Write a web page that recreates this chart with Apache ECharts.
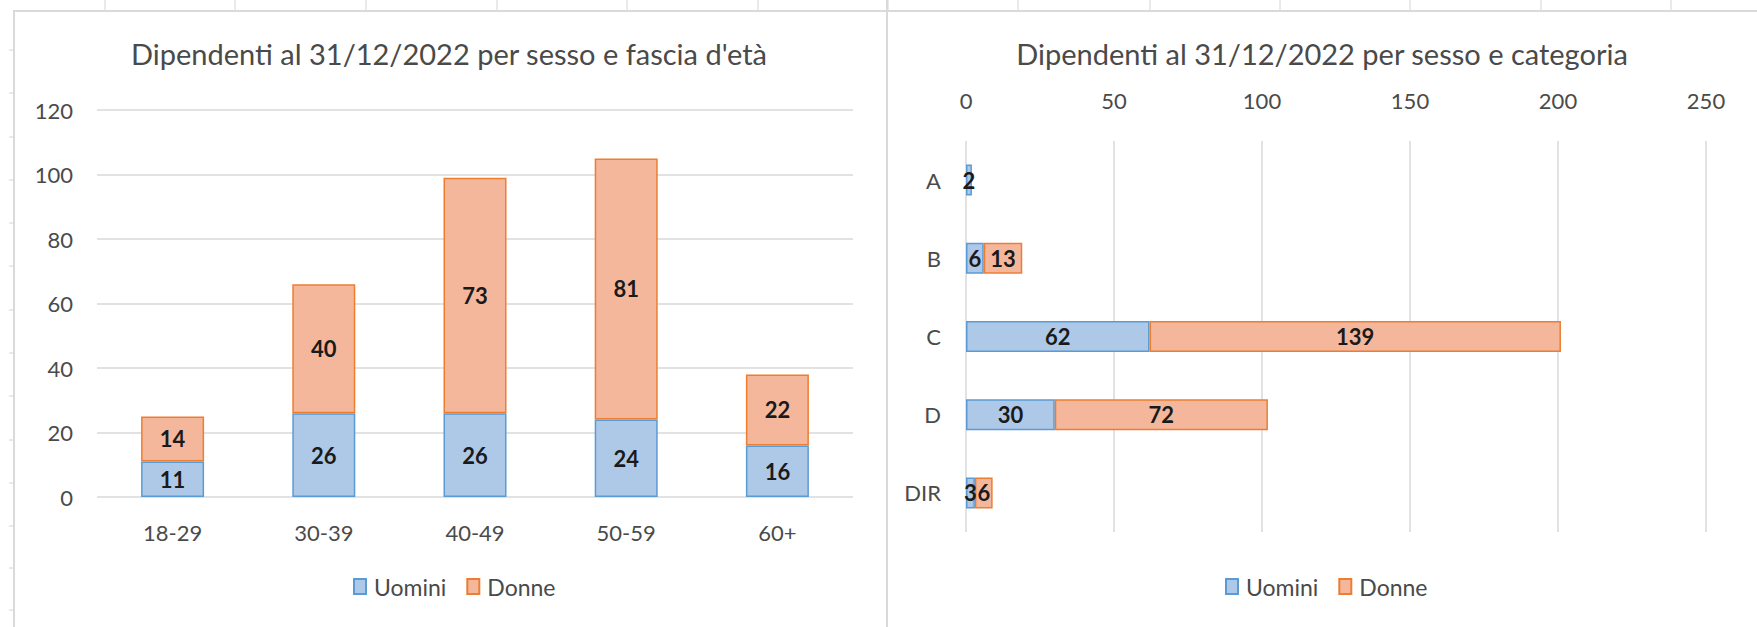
<!DOCTYPE html>
<html>
<head>
<meta charset="utf-8">
<script src="https://cdn.jsdelivr.net/npm/echarts@6/dist/echarts.min.js"></script>
<style>
html,body{margin:0;padding:0;background:#fff;}
#c{width:1757px;height:627px;}
</style>
</head>
<body>
<div id="c"></div>
<script>
// ---- Data ----
const ageCategories = ['18-29', '30-39', '40-49', '50-59', '60+'];
const ageUomini = [11, 26, 26, 24, 16];
const ageDonne = [14, 40, 73, 81, 22];
const ageTicks = { min: 0, max: 120, interval: 20 };

const catCategories = ['A', 'B', 'C', 'D', 'DIR'];
const catUomini = [2, 6, 62, 30, 3];
const catDonne = [null, 13, 139, 72, 6];
const catTicks = { min: 0, max: 250, interval: 50 };

const seriesNames = ['Uomini', 'Donne'];
const title1 = "Dipendenti al 31/12/2022 per sesso e fascia d'età";
const title2 = 'Dipendenti al 31/12/2022 per sesso e categoria';

// ---- Styles ----
const FONT = 'Lato';
const TXT = '#4a4a4a';
const GRID = '#D9D9D9';
const blue = { color: '#AEC9E8', borderColor: '#5B9BD5', borderWidth: 1.5 };
const orange = { color: '#F5B79C', borderColor: '#ED7D31', borderWidth: 1.5 };
const dataLabel = { show: true, position: 'inside', color: '#1a1a1a', fontFamily: FONT, fontWeight: 'bold', fontSize: 22 };

// decorative spreadsheet lines
const graphics = [];
const colX = [105, 235, 366, 497, 627, 758, 888, 1018, 1150, 1280, 1410, 1541, 1671];
colX.forEach(x => graphics.push({ type: 'line', shape: { x1: x, y1: 0, x2: x, y2: 10 }, style: { stroke: '#D4D4D4', lineWidth: 1 }, silent: true }));
const rowY = [50, 93, 137, 180, 223, 266, 310, 353, 396, 440, 483, 526, 568, 610];
rowY.forEach(y => graphics.push({ type: 'line', shape: { x1: 9, y1: y, x2: 13, y2: y }, style: { stroke: '#D4D4D4', lineWidth: 1 }, silent: true }));
graphics.push({ type: 'line', shape: { x1: 13, y1: 11, x2: 1757, y2: 11 }, style: { stroke: '#DADADA', lineWidth: 2 }, silent: true });
graphics.push({ type: 'line', shape: { x1: 14, y1: 11, x2: 14, y2: 627 }, style: { stroke: '#DADADA', lineWidth: 2 }, silent: true });
graphics.push({ type: 'line', shape: { x1: 887, y1: 0, x2: 887, y2: 627 }, style: { stroke: '#DADADA', lineWidth: 2 }, silent: true });

const legendText = { fontFamily: FONT, fontSize: 23, color: TXT, padding: [0, 0, 0, 3] };

const chart = echarts.init(document.getElementById('c'), null, { renderer: 'svg' });
chart.setOption({
  animation: false,
  backgroundColor: '#fff',
  textStyle: { fontFamily: FONT },
  graphic: graphics,
  title: [
    { text: title1, left: 449, top: 37, textAlign: 'center', padding: 0,
      textStyle: { fontFamily: FONT, fontSize: 29, fontWeight: 'normal', color: TXT, lineHeight: 32 } },
    { text: title2, left: 1322, top: 37, textAlign: 'center', padding: 0,
      textStyle: { fontFamily: FONT, fontSize: 29, fontWeight: 'normal', color: TXT, lineHeight: 32 } }
  ],
  legend: [
    { data: seriesNames, left: 353, top: 575, padding: 0, itemWidth: 12, itemHeight: 15, itemGap: 20, icon: 'rect',
      textStyle: legendText },
    { data: seriesNames, left: 1225, top: 575, padding: 0, itemWidth: 12, itemHeight: 15, itemGap: 20, icon: 'rect',
      textStyle: legendText }
  ],
  grid: [
    { left: 97, right: 1757 - 853, top: 110, bottom: 627 - 497, containLabel: false },
    { left: 966, right: 1757 - 1706, top: 141, bottom: 627 - 532, containLabel: false }
  ],
  xAxis: [
    { type: 'category', gridIndex: 0, data: ageCategories,
      axisLine: { show: false }, axisTick: { show: false },
      axisLabel: { fontFamily: FONT, fontSize: 22, color: TXT, margin: 24 } },
    { type: 'value', gridIndex: 1, position: 'top', min: catTicks.min, max: catTicks.max, interval: catTicks.interval,
      axisLine: { show: false }, axisTick: { show: false },
      splitLine: { lineStyle: { color: GRID, width: 1.5 } },
      axisLabel: { fontFamily: FONT, fontSize: 22, color: TXT, margin: 30 } }
  ],
  yAxis: [
    { type: 'value', gridIndex: 0, min: ageTicks.min, max: ageTicks.max, interval: ageTicks.interval,
      axisLine: { show: false }, axisTick: { show: false },
      splitLine: { lineStyle: { color: GRID, width: 1.5 } },
      axisLabel: { fontFamily: FONT, fontSize: 22, color: TXT, margin: 24 } },
    { type: 'category', gridIndex: 1, data: catCategories, inverse: true,
      axisLine: { show: false }, axisTick: { show: false },
      axisLabel: { fontFamily: FONT, fontSize: 22, color: TXT, margin: 25 } }
  ],
  series: [
    { name: seriesNames[0], type: 'bar', xAxisIndex: 0, yAxisIndex: 0, stack: 'age', barWidth: 63,
      data: ageUomini, itemStyle: blue, label: dataLabel },
    { name: seriesNames[1], type: 'bar', xAxisIndex: 0, yAxisIndex: 0, stack: 'age', barWidth: 63,
      data: ageDonne, itemStyle: orange, label: dataLabel },
    { name: seriesNames[0], type: 'bar', xAxisIndex: 1, yAxisIndex: 1, stack: 'cat', barWidth: 31,
      data: catUomini, itemStyle: blue, label: dataLabel },
    { name: seriesNames[1], type: 'bar', xAxisIndex: 1, yAxisIndex: 1, stack: 'cat', barWidth: 31,
      data: catDonne, itemStyle: orange, label: dataLabel }
  ]
});
</script>
</body>
</html>
